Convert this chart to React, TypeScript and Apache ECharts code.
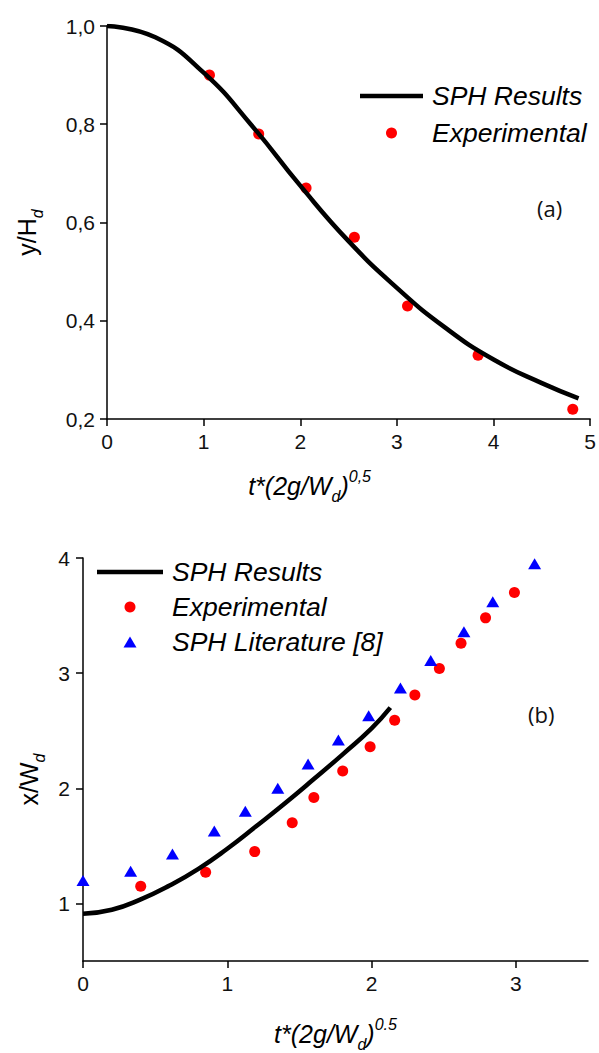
import React, { useEffect, useRef } from "react";
import * as echarts from "echarts";

// ---- Panel (a) ----
const sphAX = [0, 0.5, 1, 1.5, 2, 2.5, 3, 3.5, 4, 4.5, 4.88];
const sphAY = [1.0, 0.977, 0.905, 0.797, 0.675, 0.562, 0.467, 0.386, 0.321, 0.273, 0.242];
const expAX = [1.06, 1.57, 2.06, 2.56, 3.11, 3.84, 4.82];
const expAY = [0.90, 0.78, 0.67, 0.57, 0.43, 0.33, 0.22];
const xTicksA = [0, 1, 2, 3, 4, 5];
const yTicksA = [0.2, 0.4, 0.6, 0.8, 1.0];

// ---- Panel (b) ----
const sphBX = [0, 0.2, 0.4, 0.6, 0.8, 1.0, 1.2, 1.4, 1.6, 1.8, 2.0, 2.13];
const sphBY = [0.91, 0.945, 1.035, 1.155, 1.30, 1.475, 1.67, 1.87, 2.08, 2.295, 2.52, 2.70];
const expBX = [0.40, 0.85, 1.19, 1.45, 1.60, 1.80, 1.99, 2.16, 2.30, 2.47, 2.62, 2.79, 2.99];
const expBY = [1.15, 1.27, 1.45, 1.70, 1.92, 2.15, 2.36, 2.59, 2.81, 3.04, 3.26, 3.48, 3.70];
const litBX = [0, 0.33, 0.62, 0.91, 1.125, 1.35, 1.56, 1.77, 1.98, 2.20, 2.41, 2.64, 2.84, 3.13];
const litBY = [1.20, 1.28, 1.43, 1.63, 1.80, 2.00, 2.21, 2.42, 2.63, 2.87, 3.11, 3.36, 3.62, 3.95];
const xTicksB = [0, 1, 2, 3];
const yTicksB = [1, 2, 3, 4];

const zip = (xs: number[], ys: number[]) => xs.map((x, i) => [x, ys[i]]);

const FONT = "Liberation Sans, Arial, sans-serif";
const BLACK = "#000";
const LINE_ICON = "path://M0,0 H63 V4.5 H0 Z";
const TRI_ICON = "path://M6.5,0 L13,11 L0,11 Z";

export default function App() {
  const ref = useRef<HTMLDivElement>(null);
  useEffect(() => {
    if (!ref.current) return;
    const chart = echarts.init(ref.current, undefined, { renderer: "svg" });
    const axisCommon = {
      axisLine: { show: true, lineStyle: { color: BLACK, width: 1.5 } },
      axisTick: { show: true, inside: false, length: 7, lineStyle: { color: BLACK, width: 1.5 } },
      splitLine: { show: false },
    };
    const labelStyle = { color: "#111", fontFamily: FONT, fontSize: 21 };
    const titleRich = {
      m: { fontFamily: FONT, fontSize: 25, color: BLACK, fontStyle: "italic", lineHeight: 36, verticalAlign: "middle" },
      u: { fontFamily: FONT, fontSize: 25, color: BLACK, fontStyle: "normal", lineHeight: 36, verticalAlign: "middle" },
      s: { fontFamily: FONT, fontSize: 16, color: BLACK, fontStyle: "italic", lineHeight: 14, verticalAlign: "bottom" },
      p: { fontFamily: FONT, fontSize: 16, color: BLACK, fontStyle: "italic", lineHeight: 14, verticalAlign: "top" },
    };
    const legendText = {
      fontFamily: FONT, fontSize: 26.5, fontStyle: "italic", color: BLACK, lineHeight: 30, padding: [0, 0, 0, 4],
    };
    const option: any = {
      animation: false,
      backgroundColor: "#fff",
      grid: [
        { left: 107, top: 26, width: 486, height: 393 },
        { left: 83, top: 558, width: 505, height: 408 },
      ],
      xAxis: [
        {
          type: "value", gridIndex: 0, min: 0, max: 5, interval: 1,
          ...axisCommon,
          axisLabel: { ...labelStyle, margin: 12, customValues: xTicksA },
          axisTick: { ...axisCommon.axisTick, customValues: xTicksA },
          name: "{m|t*(2g/W}{s|d}{m|)}{p|0,5}",
          nameLocation: "middle", nameGap: 49, nameMoveOverlap: false,
          nameTextStyle: { rich: titleRich, padding: [0, 78, 0, 0] },
        },
        {
          type: "value", gridIndex: 1, min: 0, max: 3.5, interval: 1,
          ...axisCommon,
          axisLabel: { ...labelStyle, margin: 12, customValues: xTicksB },
          axisTick: { ...axisCommon.axisTick, customValues: xTicksB },
          name: "{m|t*(2g/W}{s|d}{m|)}{p|0.5}",
          nameLocation: "middle", nameGap: 55, nameMoveOverlap: false,
          nameTextStyle: { rich: titleRich },
        },
      ],
      yAxis: [
        {
          type: "value", gridIndex: 0, min: 0.2, max: 1.0, interval: 0.2,
          ...axisCommon,
          axisLabel: {
            ...labelStyle, margin: 12, customValues: yTicksA,
            formatter: (v: number) => v.toFixed(1).replace(".", ","),
          },
          axisTick: { ...axisCommon.axisTick, customValues: yTicksA },
          name: "{u|y/H}{s|d}",
          nameLocation: "middle", nameGap: 62, nameRotate: 90,
          nameTextStyle: { rich: titleRich, padding: [0, 20, 0, 0] },
        },
        {
          type: "value", gridIndex: 1, min: 0.5, max: 4,
          ...axisCommon,
          axisLabel: { ...labelStyle, margin: 13, customValues: yTicksB },
          axisTick: { ...axisCommon.axisTick, customValues: yTicksB },
          name: "{u|x/W}{s|d}",
          nameLocation: "middle", nameGap: 36, nameRotate: 90,
          nameTextStyle: { rich: titleRich, padding: [0, 40, 0, 0] },
        },
      ],
      legend: [
        {
          orient: "vertical", left: 360, top: 81, padding: 0,
          itemWidth: 63, itemHeight: 11, itemGap: 7,
          data: [
            { name: "SPH Results", icon: LINE_ICON },
            { name: "Experimental", icon: "circle" },
          ],
          textStyle: legendText,
          selectedMode: false,
        },
        {
          orient: "vertical", left: 97, top: 557, padding: 0,
          itemWidth: 66, itemHeight: 11, itemGap: 5,
          data: [
            { name: "SPH Results ", icon: LINE_ICON },
            { name: "Experimental ", icon: "circle" },
            { name: "SPH Literature [8]", icon: TRI_ICON },
          ],
          textStyle: legendText,
          selectedMode: false,
        },
      ],
      series: [
        {
          name: "SPH Results", type: "line", xAxisIndex: 0, yAxisIndex: 0,
          data: zip(sphAX, sphAY), smooth: 0.5, symbol: "none",
          lineStyle: { color: BLACK, width: 4.5 }, itemStyle: { color: BLACK },
        },
        {
          name: "Experimental", type: "scatter", xAxisIndex: 0, yAxisIndex: 0,
          data: zip(expAX, expAY), symbol: "circle", symbolSize: 11,
          itemStyle: { color: "#ff0000", opacity: 1 },
        },
        {
          name: "SPH Results ", type: "line", xAxisIndex: 1, yAxisIndex: 1,
          data: zip(sphBX, sphBY), smooth: 0.5, symbol: "none",
          lineStyle: { color: BLACK, width: 4.5 }, itemStyle: { color: BLACK },
        },
        {
          name: "Experimental ", type: "scatter", xAxisIndex: 1, yAxisIndex: 1,
          data: zip(expBX, expBY), symbol: "circle", symbolSize: 11,
          itemStyle: { color: "#ff0000", opacity: 1 },
        },
        {
          name: "SPH Literature [8]", type: "scatter", xAxisIndex: 1, yAxisIndex: 1,
          data: zip(litBX, litBY), symbol: "triangle", symbolSize: [13, 11],
          itemStyle: { color: "#0000ff", opacity: 1 },
        },
      ],
      graphic: [
        { type: "text", left: 537, top: 197, style: { text: "(a)", fontFamily: "Open Sans, sans-serif", fontSize: 22, fill: "#111" } },
        { type: "text", left: 528, top: 703, style: { text: "(b)", fontFamily: "Open Sans, sans-serif", fontSize: 22, fill: "#111" } },
      ],
    };
    chart.setOption(option);
    return () => chart.dispose();
  }, []);
  return (
    <div
      ref={ref}
      style={{ position: "absolute", left: 0, top: 0, width: 599, height: 1053, background: "#fff" }}
    />
  );
}
